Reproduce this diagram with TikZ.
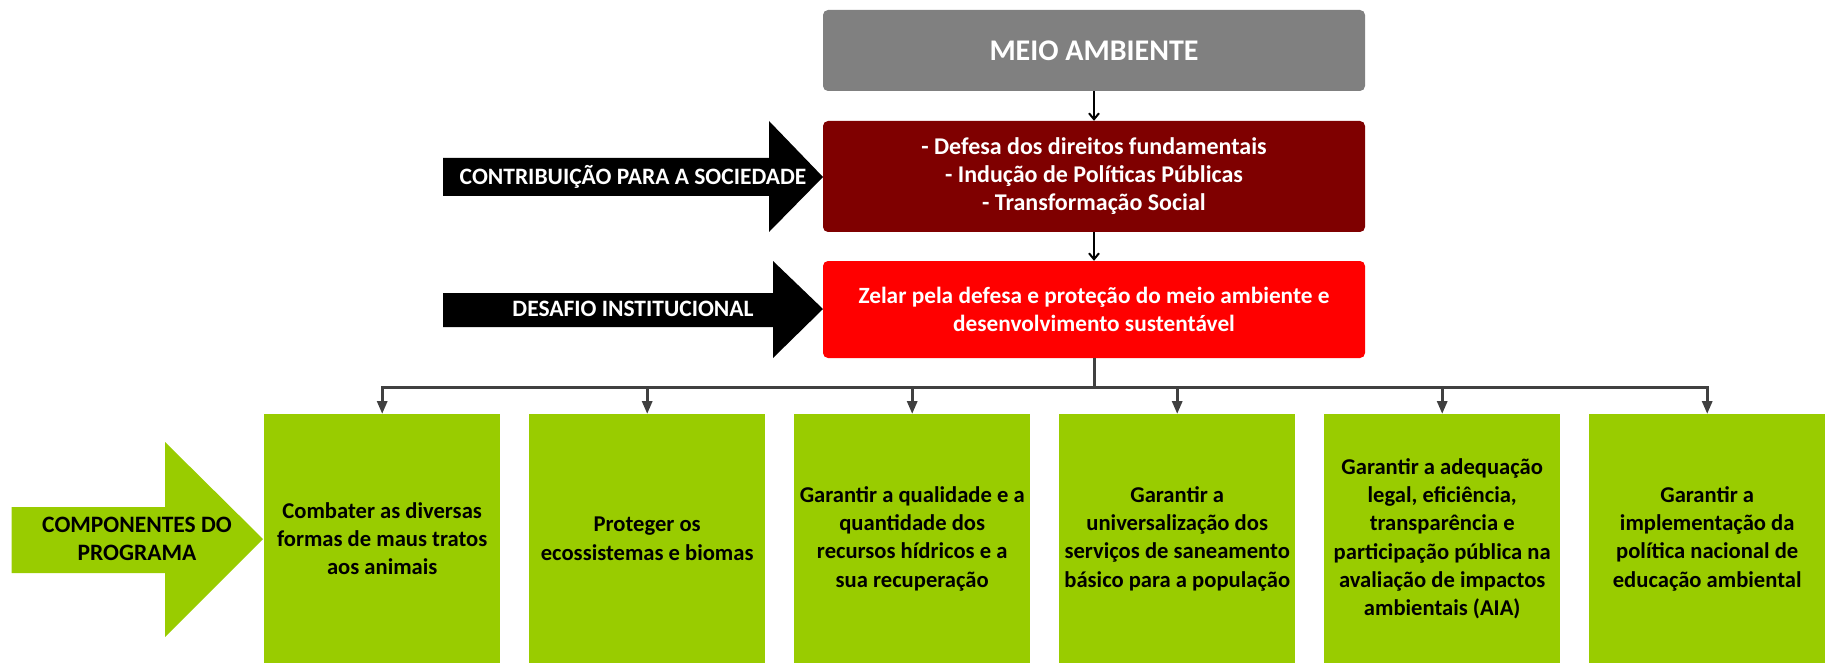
\documentclass[tikz,border=0pt]{standalone}
\usepackage{fontspec}
\setmainfont{Carlito}
\usetikzlibrary{arrows.meta}
\definecolor{meiogray}{HTML}{808080}
\definecolor{vinho}{HTML}{7F0000}
\definecolor{vermelho}{HTML}{FF0000}
\definecolor{verde}{HTML}{99CC00}
\definecolor{linha}{HTML}{404040}
\tikzstyle{top box}=[fill=meiogray, text=white, rounded corners=5pt, minimum width=542pt, minimum height=81pt, font=\fontsize{30}{34}\selectfont\bfseries]
\tikzstyle{dark box}=[fill=vinho, text=white, rounded corners=5pt, minimum width=542pt, minimum height=111pt, align=center, font=\fontsize{24}{28}\selectfont\bfseries]
\tikzstyle{red box}=[fill=vermelho, text=white, rounded corners=5pt, minimum width=542pt, minimum height=97pt, align=center, font=\fontsize{23.3}{28}\selectfont\bfseries]
\tikzstyle{comp box}=[fill=verde, anchor=north west, minimum width=236pt, minimum height=249pt, inner sep=0pt, align=center, font=\fontsize{22.6}{28.3}\selectfont\bfseries]
\tikzstyle{label}=[align=center, font=\fontsize{23.5}{28}\selectfont\bfseries]
\tikzstyle{down}=[black, line width=2pt, -{Straight Barb[width=10pt,length=6pt]}]
\tikzstyle{bus}=[linha, line width=3pt]

\begin{document}
\begin{tikzpicture}[x=1pt,y=-1pt]
    \useasboundingbox (0,0) rectangle (1831,663);

    % Big arrows
    \fill (443,158) -- (769,158) -- (769,121) -- (823,177) -- (769,232)
    -- (769,196) -- (443,196) -- cycle;
    \fill (443,293) -- (773,293) -- (773,261) -- (823,309) -- (773,358)
    -- (773,327) -- (443,327) -- cycle;
    \fill[verde] (11.5,507) -- (165,507) -- (165,442) -- (263,539) -- (165,637)
    -- (165,573) -- (11.5,573) -- cycle;
    \draw (633,177) node[label, text=white] (contrib) {CONTRIBUIÇÃO PARA A SOCIEDADE};
    \draw (633,309) node[label, text=white] (desafio) {DESAFIO INSTITUCIONAL};
    \draw (137,539) node[label] (comp) {COMPONENTES DO\\PROGRAMA};

    % Central boxes
    \draw (1094,50.5) node[top box] (meio) {MEIO AMBIENTE};
    \draw (1094,176.5) node[dark box] (defesa) {- Defesa dos direitos fundamentais\\- Indução de Políticas Públicas\\- Transformação Social};
    \draw (1094,309.5) node[red box] (zelar) {Zelar pela defesa e proteção do meio ambiente e\\desenvolvimento sustentável};
    \draw[down] (meio) -- (defesa);
    \draw[down] (defesa) -- (zelar);

    % Components
    \draw (264,414) node[comp box] (c1) {Combater as diversas\\formas de maus tratos\\aos animais};
    \draw (529,414) node[comp box] (c2) {Proteger os\\ecossistemas e biomas};
    \draw (794,414) node[comp box] (c3) {Garantir a qualidade e a\\quantidade dos\\recursos hídricos e a\\sua recuperação};
    \draw (1059,414) node[comp box] (c4) {Garantir a\\universalização dos\\serviços de saneamento\\básico para a população};
    \draw (1324,414) node[comp box] (c5) {Garantir a adequação\\legal, eficiência,\\transparência e\\participação pública na\\avaliação de impactos\\ambientais (AIA)};
    \draw (1589,414) node[comp box] (c6) {Garantir a\\implementação da\\política nacional de\\educação ambiental};

    % Connectors
    \coordinate (split) at (1094,387);
    \draw[bus] (zelar.south) -- (split);
    \draw[bus, line cap=rect] (c1.north |- split) -- (c6.north |- split);
    \foreach \i in {1,...,6}
      \draw[bus, -{Triangle[width=10pt,length=13pt]}] (c\i.north |- split) -- (c\i.north);

\end{tikzpicture}
\end{document}
